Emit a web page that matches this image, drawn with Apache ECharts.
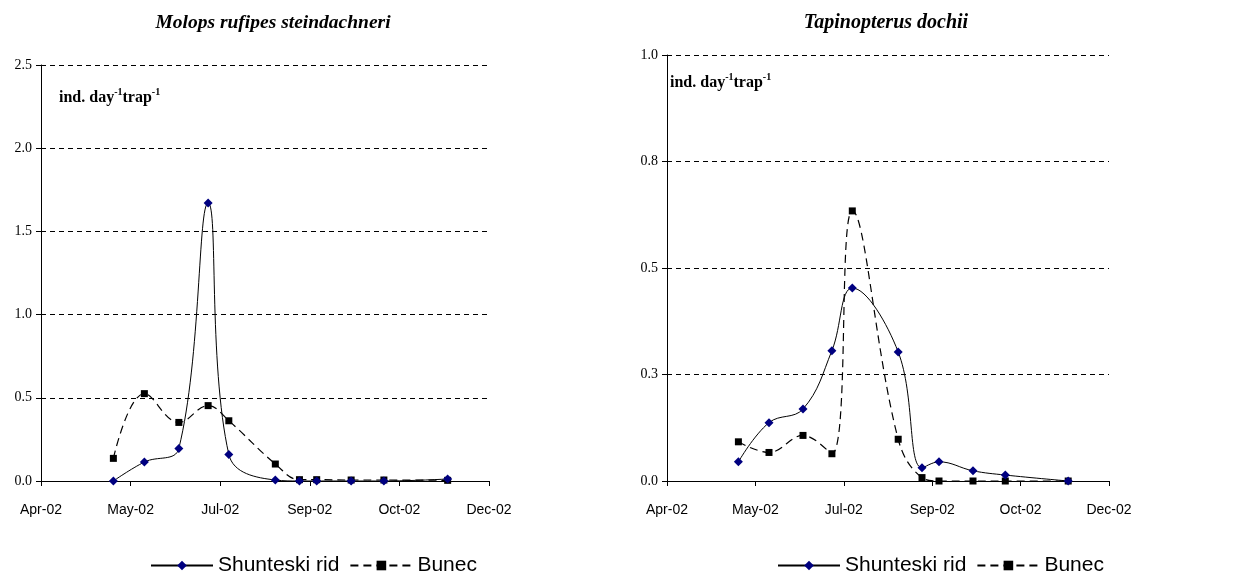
<!DOCTYPE html>
<html>
<head>
<meta charset="utf-8">
<script src="https://cdn.jsdelivr.net/npm/echarts@6/dist/echarts.min.js"></script>
<style>
  html, body { margin: 0; padding: 0; background: #fff; }
  #chart { width: 1247px; height: 576px; }
</style>
</head>
<body>
<div id="chart"></div>
<script>
// sampling dates (same for both sites and both species)
var sampleDates = ['2002-05-13', '2002-05-31', '2002-06-20', '2002-07-07', '2002-07-19', '2002-08-15',
                   '2002-08-29', '2002-09-08', '2002-09-28', '2002-10-17', '2002-11-23'];

// Molops rufipes steindachneri, ind. day-1 trap-1
var molopsShunteski = [0, 0.114, 0.196, 1.67, 0.16, 0.006, 0, 0, 0, 0, 0.012];
var molopsBunec     = [0.136, 0.525, 0.352, 0.453, 0.362, 0.102, 0.008, 0.008, 0.006, 0.006, 0.004];

// Tapinopterus dochii
var tapinShunteski = [0.045, 0.137, 0.169, 0.306, 0.453, 0.303, 0.031, 0.045, 0.024, 0.014, 0];
var tapinBunec     = [0.092, 0.067, 0.107, 0.064, 0.634, 0.098, 0.008, 0, 0, 0, 0];

// x axis: days counted from 1 Apr 2002, ticks every 52 days
var axisStart = '2002-04-01';
var axisStep = 52;
var axisSteps = 5;
var monthNames = ['Jan','Feb','Mar','Apr','May','Jun','Jul','Aug','Sep','Oct','Nov','Dec'];

var startMs = Date.parse(axisStart + 'T00:00:00Z');
function dayOf(d) {
  return Math.round((Date.parse(d + 'T00:00:00Z') - startMs) / 86400000);
}
function dayLabel(v) {
  var d = new Date(startMs + v * 86400000);
  return monthNames[d.getUTCMonth()] + '-' + String(d.getUTCFullYear()).slice(2);
}
function pairs(vals) {
  var out = [];
  for (var i = 0; i < vals.length; i++) {
    out.push([dayOf(sampleDates[i]), vals[i]]);
  }
  return out;
}

var serif = '"Liberation Serif", "Times New Roman", serif';
var sans = '"Liberation Sans", Arial, sans-serif';

function xAxisOpt(idx) {
  return {
    type: 'value',
    gridIndex: idx,
    min: 0,
    max: axisStep * axisSteps,
    interval: axisStep,
    axisLine: { show: true, lineStyle: { color: '#000', width: 1 } },
    axisTick: { show: true, length: 5, lineStyle: { color: '#000' } },
    axisLabel: { color: '#000', fontFamily: sans, fontSize: 14, margin: 22, formatter: dayLabel },
    splitLine: { show: false }
  };
}
function yAxisOpt(idx, max, step) {
  return {
    type: 'value',
    gridIndex: idx,
    min: 0,
    max: max,
    interval: step,
    axisLine: { show: true, lineStyle: { color: '#000', width: 1 } },
    axisTick: { show: true, length: 5, lineStyle: { color: '#000' } },
    axisLabel: {
      color: '#000', fontFamily: serif, fontSize: 14, margin: 9,
      formatter: function (v) { return v.toFixed(1); }
    },
    splitLine: { show: true, lineStyle: { color: '#000', width: 1, type: [5, 4] } }
  };
}
function shuntSeries(idx, vals) {
  return {
    name: 'Shunteski rid',
    type: 'line',
    xAxisIndex: idx,
    yAxisIndex: idx,
    data: pairs(vals),
    smooth: 0.4,
    symbol: 'diamond',
    symbolSize: 9,
    itemStyle: { color: '#000080' },
    lineStyle: { color: '#000', width: 1 },
    z: 3
  };
}
function bunecSeries(idx, vals) {
  return {
    name: 'Bunec',
    type: 'line',
    xAxisIndex: idx,
    yAxisIndex: idx,
    data: pairs(vals),
    smooth: 0.4,
    symbol: 'rect',
    symbolSize: 7,
    itemStyle: { color: '#000' },
    lineStyle: { color: '#000', width: 1.2, type: [8, 5] },
    z: 2
  };
}
function legendOpt(left) {
  return {
    left: left,
    top: 550,
    data: ['Shunteski rid', 'Bunec'],
    itemWidth: 62,
    itemHeight: 12,
    itemGap: 10,
    selectedMode: false,
    textStyle: { color: '#000', fontFamily: sans, fontSize: 21 }
  };
}
function unitLabel(left, top) {
  return {
    type: 'text',
    left: left,
    top: top,
    style: {
      text: '{a|ind. day}{s|-1}{a|trap}{s|-1}',
      rich: {
        a: { fontFamily: serif, fontWeight: 'bold', fontSize: 16, lineHeight: 19, verticalAlign: 'bottom', fill: '#000' },
        s: { fontFamily: serif, fontWeight: 'bold', fontSize: 10, lineHeight: 19, verticalAlign: 'top', fill: '#000' }
      }
    }
  };
}

var chart = echarts.init(document.getElementById('chart'), null, { renderer: 'canvas' });
var option = {
  backgroundColor: '#fff',
  animation: false,
  title: [
    {
      text: 'Molops rufipes steindachneri',
      left: 268, top: 8, textAlign: 'center',
      textStyle: { fontFamily: serif, fontStyle: 'italic', fontWeight: 'bold', fontSize: 19.5, color: '#000' }
    },
    {
      text: 'Tapinopterus dochii',
      left: 881, top: 8, textAlign: 'center',
      textStyle: { fontFamily: serif, fontStyle: 'italic', fontWeight: 'bold', fontSize: 20, color: '#000' }
    }
  ],
  grid: [
    { left: 41, top: 65, width: 448, height: 416, containLabel: false },
    { left: 667, top: 55, width: 442, height: 426, containLabel: false }
  ],
  xAxis: [xAxisOpt(0), xAxisOpt(1)],
  yAxis: [yAxisOpt(0, 2.5, 0.5), yAxisOpt(1, 1.0, 0.25)],
  legend: [legendOpt(145), legendOpt(772)],
  graphic: [unitLabel(59, 87), unitLabel(670, 72)],
  series: [
    shuntSeries(0, molopsShunteski),
    bunecSeries(0, molopsBunec),
    shuntSeries(1, tapinShunteski),
    bunecSeries(1, tapinBunec)
  ]
};
chart.setOption(option);
</script>
</body>
</html>
